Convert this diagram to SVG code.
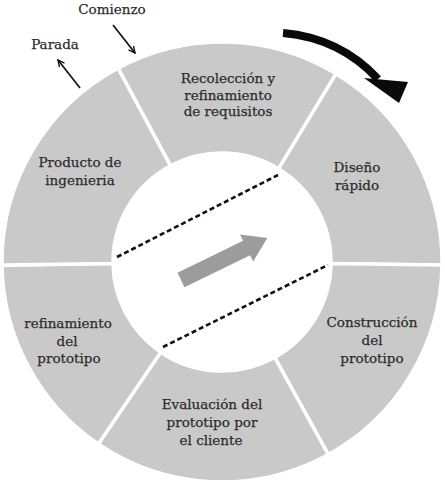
<svg xmlns="http://www.w3.org/2000/svg" width="445" height="480" viewBox="0 0 445 480">
  <style>
    .seg { fill: #c9c9c9; stroke: #ffffff; stroke-width: 3.5; stroke-linejoin: miter; }
    .lbl { font-family: "DejaVu Serif", "Liberation Serif", serif; font-size: 13.5px; fill: #2c2c2c; stroke: #2c2c2c; stroke-width: 0.25; text-anchor: middle; }
    .thin { stroke: #111; stroke-width: 1.7; fill: none; }
    .dash { stroke: #111; stroke-width: 2.6; fill: none; stroke-dasharray: 5 3; }
  </style>
  <defs>
    <marker id="vhead" viewBox="0 0 10 10" refX="9" refY="5" markerWidth="8" markerHeight="8" orient="auto" markerUnits="userSpaceOnUse">
      <path d="M1,1 L9,5 L1,9" fill="none" stroke="#111" stroke-width="1.7"/>
    </marker>
  </defs>
  <rect width="445" height="480" fill="#ffffff"/>

  <g id="recoleccion">
    <path class="seg" d="M118.0,68.1 A220,220 0 0 1 336.0,73.8 L278.5,168.8 A109,109 0 0 0 170.5,165.9 Z"/>
    <text class="lbl" x="228" y="83">Recolección y</text>
    <text class="lbl" x="228" y="100">refinamiento</text>
    <text class="lbl" x="228" y="116">de requisitos</text>
  </g>
  <g id="diseno">
    <path class="seg" d="M336.0,73.8 A220,220 0 0 1 442.0,265.1 L331.0,263.5 A109,109 0 0 0 278.5,168.8 Z"/>
    <text class="lbl" x="357" y="172">Diseño</text>
    <text class="lbl" x="357" y="190">rápido</text>
  </g>
  <g id="construccion">
    <path class="seg" d="M442.0,265.1 A220,220 0 0 1 328.3,454.6 L274.7,357.4 A109,109 0 0 0 331.0,263.5 Z"/>
    <text class="lbl" x="372" y="327">Construcción</text>
    <text class="lbl" x="372" y="345">del</text>
    <text class="lbl" x="372" y="363">prototipo</text>
  </g>
  <g id="evaluacion">
    <path class="seg" d="M328.3,454.6 A220,220 0 0 1 98.3,444.0 L160.7,352.2 A109,109 0 0 0 274.7,357.4 Z"/>
    <text class="lbl" x="212" y="409">Evaluación del</text>
    <text class="lbl" x="212" y="427">prototipo por</text>
    <text class="lbl" x="211" y="445">el cliente</text>
  </g>
  <g id="refinamiento">
    <path class="seg" d="M98.3,444.0 A220,220 0 0 1 2.0,265.1 L113.0,263.5 A109,109 0 0 0 160.7,352.2 Z"/>
    <text class="lbl" x="68" y="328">refinamiento</text>
    <text class="lbl" x="67" y="346">del</text>
    <text class="lbl" x="69" y="363">prototipo</text>
  </g>
  <g id="producto">
    <path class="seg" d="M2.0,265.1 A220,220 0 0 1 118.0,68.1 L170.5,165.9 A109,109 0 0 0 113.0,263.5 Z"/>
    <text class="lbl" x="80" y="167">Producto de</text>
    <text class="lbl" x="80" y="185">ingenieria</text>
  </g>

  <g id="centro">
    <polygon points="0,-8 73,-8 73,-15 96,0 73,15 73,8 0,8" fill="#9c9c9c" transform="translate(181,280) rotate(-26)"/>
  </g>

  <g id="comienzo">
    <text class="lbl" x="112" y="14">Comienzo</text>
  </g>
  <g id="parada">
    <text class="lbl" x="55" y="49">Parada</text>
  </g>

  <g id="connectors">
    <line class="dash" x1="117" y1="257" x2="278" y2="175"/>
    <line class="dash" x1="163" y1="347" x2="328" y2="265"/>
    <line class="thin" x1="113" y1="25" x2="135" y2="53" marker-end="url(#vhead)"/>
    <line class="thin" x1="80" y1="88" x2="58" y2="60" marker-end="url(#vhead)"/>
    <path d="M283,33 Q340,38 378,79" fill="none" stroke="#0a0a0a" stroke-width="8"/>
    <polygon points="364,78 408,82 399,103" fill="#0a0a0a"/>
  </g>
</svg>
